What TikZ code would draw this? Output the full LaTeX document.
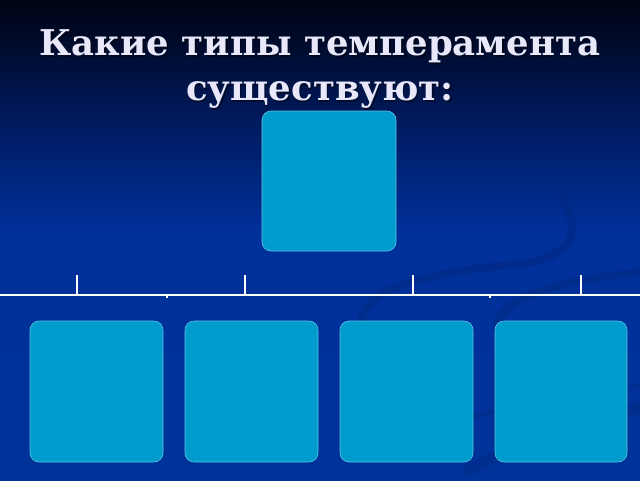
\documentclass[tikz,border=0pt]{standalone}
\usepackage{fontspec}
\setmainfont{DejaVu Serif}
\definecolor{bgtop}{HTML}{000412}
\definecolor{bgmid}{HTML}{001A5E}
\definecolor{bgblue}{HTML}{00309A}
\definecolor{bgbot}{HTML}{003399}
\definecolor{boxfill}{HTML}{009CCD}
\definecolor{boxline}{HTML}{5FC3E6}
\definecolor{titlecol}{HTML}{E8E8FA}
\definecolor{swirl}{HTML}{00287F}
\tikzset{
  tbox/.style={draw=boxline, line width=0.6pt, fill=boxfill, rounded corners=9pt},
  tline/.style={draw=white, line width=2pt},
  swirlstroke/.style={draw=swirl, line width=8pt, line cap=round, opacity=0.5},
  titletext/.style={font=\bfseries\fontsize{35.5}{45}\selectfont, text=titlecol, align=center}
}
\begin{document}
\begin{tikzpicture}[x=1pt,y=-1pt]
\useasboundingbox (0,0) rectangle (640,480);
% background gradient
\shade[top color=bgtop, bottom color=bgmid] (0,0) rectangle (640,121);
\shade[top color=bgmid, bottom color=bgblue] (0,120) rectangle (640,231);
\shade[top color=bgblue, bottom color=bgbot] (0,230) rectangle (640,480);
% faint background swirls
\begin{scope}
\clip (0,0) rectangle (640,480);
\draw[swirlstroke] (372,348) .. controls (335,300) and (400,275) .. (510,265)
      .. controls (590,258) and (575,220) .. (560,195);
\draw[swirlstroke] (505,348) .. controls (475,305) and (540,282) .. (645,272);
\draw[swirlstroke, line width=12pt, opacity=0.4] (470,470) .. controls (520,440) and (580,420) .. (650,405);
\draw[swirlstroke, line width=5pt, opacity=0.4] (420,432) .. controls (470,415) and (560,395) .. (650,385);
\end{scope}
% title with shadow
\node[titletext, text=black, opacity=0.4] (shadow) at (321.5,70.5) {Какие типы темперамента\\существуют:};
\node[titletext] (title) at (320,69) {Какие типы темперамента\\существуют:};
% top box
\path[tbox] (262,111) rectangle (396,251);
% horizontal line with ticks
\coordinate (hl) at (0,295);
\coordinate (hr) at (640,295);
\draw[tline] (hl) -- (hr);
\foreach \x in {77,245,413,581} {
  \coordinate (t\x) at (\x,275);
  \coordinate (b\x) at (\x,295);
  \draw[tline] (t\x) -- (b\x);
}
\fill[white] (166,296) rectangle (168,298);
\fill[white] (489,296) rectangle (491,298);
% bottom boxes
\path[tbox] (30,321) rectangle (163,462);
\path[tbox] (185,321) rectangle (318,462);
\path[tbox] (340,321) rectangle (473,462);
\path[tbox] (495,321) rectangle (627,462);
\end{tikzpicture}
\end{document}
